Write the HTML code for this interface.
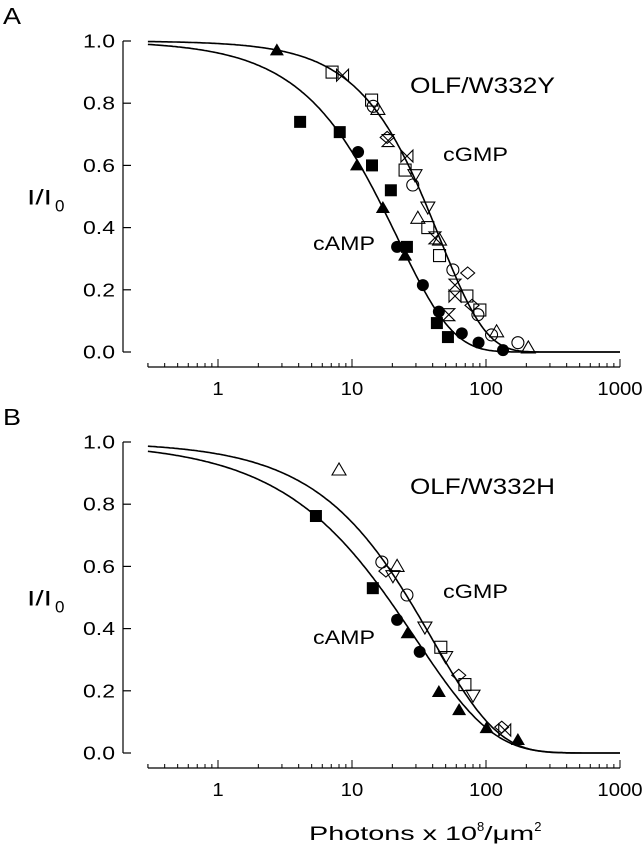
<!DOCTYPE html>
<html><head><meta charset="utf-8"><style>
body{margin:0;background:#fff}
svg{display:block;font-family:"Liberation Sans",Arial,sans-serif}
</style></head><body>
<svg id="chart" width="644" height="853" viewBox="0 0 644 853"></svg>
<script>
// ---- data ----
const xTicks = [1, 10, 100, 1000];
const yTicks = [0, 0.2, 0.4, 0.6, 0.8, 1.0];
const yTickLabels = ["0.0","0.2","0.4","0.6","0.8","1.0"];
// fit params [K, n] for y = exp(-(x/K)^n)
const fitA_cAMP = [21.8, 1.05];
const fitA_cGMP = [45, 1.26];
const fitB_cAMP = [29.8, 0.76];
const fitB_cGMP = [39.5, 0.88];
// panel A cAMP (filled)
const A_cAMP_shape = ["tri","sq","sq","ci","tri","sq","sq","tri","ci","sq","tri","ci","ci","sq","ci","sq","ci","ci"];
const A_cAMP_x = [2.75,4.1,8.1,11.1,10.9,14.1,19.5,17,21.7,25.7,24.9,33.8,44.5,43,66,52,88,134];
const A_cAMP_y = [0.97,0.74,0.707,0.643,0.60,0.60,0.52,0.463,0.338,0.338,0.31,0.215,0.13,0.093,0.06,0.048,0.03,0.006];
// panel A cGMP (open)
const A_cGMP_shape = ["sq","bow","sq","ci","tri","dia","hg","bow","sq","tdn","ci","tdn","tri","sq","hg","tri","sq","ci","dia","hg","bow","sq","dia","sq","ci","hg","tri","ci","ci","tri"];
const A_cGMP_x = [7.1,8.5,14,14.4,15.6,18.3,18.6,25.7,24.9,29.5,28.4,36.8,31,36.8,41.6,45,45,56.6,73,58.7,58.7,72,78.6,90,87,52.8,120,110,173,207];
const A_cGMP_y = [0.90,0.89,0.81,0.79,0.78,0.69,0.68,0.63,0.585,0.57,0.537,0.466,0.43,0.40,0.367,0.36,0.31,0.264,0.254,0.215,0.18,0.18,0.15,0.135,0.12,0.12,0.065,0.055,0.03,0.013];
// panel B cAMP (filled)
const B_cAMP_shape = ["sq","sq","ci","tri","ci","tri","tri","tri","tri"];
const B_cAMP_x = [5.38,14.3,21.7,26,32,44.5,63,101,173];
const B_cAMP_y = [0.762,0.53,0.428,0.385,0.325,0.196,0.138,0.08,0.042];
// panel B cGMP (open)
const B_cGMP_shape = ["tri","ci","dia","tri","tdn","ci","tdn","sq","tdn","dia","sq","tdn","dia","bow"];
const B_cGMP_x = [8.0,16.7,17.9,21.7,20.2,25.7,35,46,50,62.6,69.6,80,131,138];
const B_cGMP_y = [0.91,0.614,0.585,0.60,0.57,0.508,0.405,0.34,0.31,0.25,0.22,0.186,0.083,0.074];

// ---- drawing ----
const NS="http://www.w3.org/2000/svg";
const svg=document.getElementById('chart');
function mk(tag,attrs,parent){const e=document.createElementNS(NS,tag);for(const k in attrs)e.setAttribute(k,attrs[k]);(parent||svg).appendChild(e);return e;}
const X0=218, DEC=134, AXL=123, XMIN=0.3, XMAX=1000;
function xs(v){return X0+DEC*Math.log10(v);}
const LA='spacingAndGlyphs';

function marker(g,shape,cx,cy,filled){
  const s=6, sw=filled?0:1.1;
  const st={fill:filled?'#000':'none',stroke:'#000','stroke-width':sw};
  let e;
  if(shape==='sq') e=mk('rect',Object.assign({x:cx-s,y:cy-s,width:2*s,height:2*s},st),g);
  else if(shape==='ci') e=mk('circle',Object.assign({cx:cx,cy:cy,r:s},st),g);
  else if(shape==='tri') e=mk('polygon',Object.assign({points:`${cx},${cy-s-1} ${cx-s-1},${cy+s-1} ${cx+s+1},${cy+s-1}`},st),g);
  else if(shape==='tdn') e=mk('polygon',Object.assign({points:`${cx},${cy+s+1} ${cx-s-1},${cy-s+1} ${cx+s+1},${cy-s+1}`},st),g);
  else if(shape==='dia') e=mk('polygon',Object.assign({points:`${cx},${cy-s} ${cx+s+1},${cy} ${cx},${cy+s} ${cx-s-1},${cy}`},st),g);
  else if(shape==='bow') e=mk('polygon',Object.assign({points:`${cx-s},${cy-s} ${cx+s},${cy+s} ${cx+s},${cy-s} ${cx-s},${cy+s}`},st),g);
  else e=mk('polygon',Object.assign({points:`${cx-s},${cy-s} ${cx+s},${cy-s} ${cx-s},${cy+s} ${cx+s},${cy+s}`},st),g);
  
  
}

function panel(id,off,letter,title,fits,sets,lbls){
  const y1=41+off, y0=352+off, xa=367+off;
  const ys=v=>y0-(y0-y1)*v;
  const g=mk('g',{});
  
  
  const L=mk('text',{x:3,y:24+off,'font-size':23,textLength:18,lengthAdjust:LA},g);L.textContent=letter;
  
  const ya=mk('g',{},g);
  mk('line',{x1:AXL,y1:y1,x2:AXL,y2:y0,stroke:'#000','stroke-width':1.2},ya);
  yTicks.forEach((t,i)=>{const y=ys(t);
    mk('line',{x1:AXL,y1:y,x2:AXL+8,y2:y,stroke:'#000','stroke-width':1.2},ya);
    const tx=mk('text',{x:83,y:y+6.5,'font-size':18,textLength:32,lengthAdjust:LA},ya);tx.textContent=yTickLabels[i];
    });
  const yt=mk('text',{x:27,y:ys(0.5)+8,'font-size':21},g);
  yt.innerHTML='<tspan textLength="25" lengthAdjust="spacingAndGlyphs">I/I</tspan><tspan font-size="17" dy="7" dx="3">0</tspan>';
  
  const xg=mk('g',{},g);
  mk('line',{x1:xs(XMIN),y1:xa,x2:xs(XMAX),y2:xa,stroke:'#000','stroke-width':1.2},xg);
  for(let d=-1;d<=2;d++){for(let m=1;m<=9;m++){const v=m*Math.pow(10,d);if(v<XMIN-1e-9)continue;
      mk('line',{x1:xs(v),y1:xa,x2:xs(v),y2:xa-(m===1?8:4),stroke:'#000','stroke-width':1},xg);}}
  mk('line',{x1:xs(1000),y1:xa,x2:xs(1000),y2:xa-8,stroke:'#000','stroke-width':1},xg);
  mk('line',{x1:xs(XMIN),y1:xa,x2:xs(XMIN),y2:xa-4,stroke:'#000','stroke-width':1},xg);
  xTicks.forEach(t=>{const s=String(t);const w=s.length*11.3;
    const tx=mk('text',{x:xs(t)-w/2,y:xa+28,'font-size':18,textLength:w,lengthAdjust:LA},xg);tx.textContent=s;
    });
  fits.forEach((p,i)=>{let d='';for(let k=0;k<=300;k++){const lv=Math.log10(XMIN)+k/300*(3-Math.log10(XMIN));const v=Math.pow(10,lv);
      const yv=Math.exp(-Math.pow(v/p[0],p[1]));d+=(k?'L':'M')+xs(v).toFixed(1)+','+ys(yv).toFixed(1);}
    const c=mk('path',{d:d,fill:'none',stroke:'#000','stroke-width':1.6},g);
    });
  sets.forEach(s=>{const sg=mk('g',{},g);
    s.x.forEach((xv,i)=>marker(sg,s.shape[i],xs(xv),ys(s.y[i]),s.filled));});
  const t1=mk('text',{x:410,y:93+off,'font-size':22,textLength:145,lengthAdjust:LA},g);t1.textContent=title;
  
  const t2=mk('text',{x:lbls[0],y:lbls[1]+off,'font-size':19,textLength:65,lengthAdjust:LA},g);t2.textContent='cGMP';
  
  const t3=mk('text',{x:lbls[2],y:lbls[3]+off,'font-size':19,textLength:62,lengthAdjust:LA},g);t3.textContent='cAMP';
  
}
panel('a',0,'A','OLF/W332Y',[fitA_cAMP,fitA_cGMP],
 [{name:'cgmp-series',shape:A_cGMP_shape,x:A_cGMP_x,y:A_cGMP_y,filled:false},
  {name:'camp-series',shape:A_cAMP_shape,x:A_cAMP_x,y:A_cAMP_y,filled:true}],[443,161,313,250]);
panel('b',401,'B','OLF/W332H',[fitB_cAMP,fitB_cGMP],
 [{name:'cgmp-series',shape:B_cGMP_shape,x:B_cGMP_x,y:B_cGMP_y,filled:false},
  {name:'camp-series',shape:B_cAMP_shape,x:B_cAMP_x,y:B_cAMP_y,filled:true}],[443,197,313,243]);
const xt=mk('text',{x:309,y:840,'font-size':19});
xt.innerHTML='<tspan textLength="168" lengthAdjust="spacingAndGlyphs">Photons x 10</tspan><tspan font-size="13" dy="-9">8</tspan><tspan dy="9" textLength="50" lengthAdjust="spacingAndGlyphs">/μm</tspan><tspan font-size="13" dy="-9">2</tspan>';


</script>
</body></html>
